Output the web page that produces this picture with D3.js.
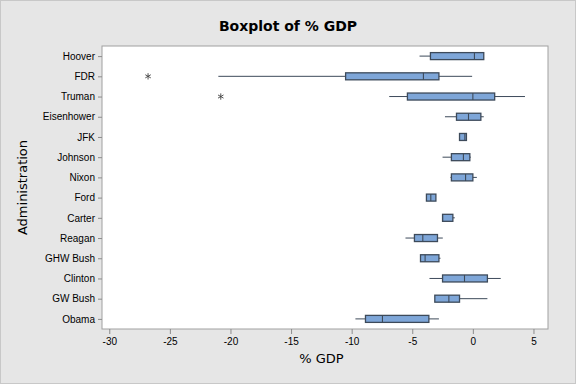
<!DOCTYPE html>
<html>
<head>
<meta charset="utf-8">
<script src="https://cdn.jsdelivr.net/npm/d3@7"></script>
<style>
  body { margin: 0; background: #e6e6e6; }
  svg { display: block; font-family: "DejaVu Sans", sans-serif; }
  .axis text { font-size: 10px; fill: #000; }
  .axis line { stroke: #8c8c8c; }
  .axis path { display: none; }
</style>
</head>
<body>
<div id="chart"></div>
<script>
// Administrations, top to bottom
var admins = ["Hoover", "FDR", "Truman", "Eisenhower", "JFK", "Johnson", "Nixon",
              "Ford", "Carter", "Reagan", "GHW Bush", "Clinton", "GW Bush", "Obama"];

// five-number summaries per administration (% GDP)
var whiskerLow = [-4.4, -21.0, -6.9, -2.3, -1.1, -2.5, -1.85, -3.83, -2.5, -5.56, -4.32, -3.58, -3.14, -9.69];
var q1         = [-3.5, -10.5, -5.4, -1.35, -1.1, -1.77, -1.77, -3.83, -2.5, -4.82, -4.32, -2.5, -3.14, -8.86];
var median     = [0.13, -4.08, 0.0, -0.36, -0.66, -0.78, -0.6, -3.47, -2.5, -4.13, -3.94, -0.69, -1.98, -7.46];
var q3         = [0.9, -2.8, 1.8, 0.66, -0.53, -0.25, 0.0, -3.05, -1.65, -2.92, -2.8, 1.2, -1.1, -3.63];
var whiskerHigh = [0.9, -0.06, 4.3, 0.9, -0.53, -0.17, 0.33, -3.05, -1.49, -2.48, -2.67, 2.3, 1.2, -2.8];

// outliers
var outlierAdmin = ["FDR", "Truman"];
var outlierValue = [-26.8, -20.8];

var xTicks = [-30, -25, -20, -15, -10, -5, 0, 5];

var width = 576, height = 384;
var margin = { top: 46, right: 28, bottom: 55, left: 102 };
var plotW = width - margin.left - margin.right,
    plotH = height - margin.top - margin.bottom;

var svg = d3.select("#chart").append("svg")
    .attr("width", width)
    .attr("height", height);

// outer frame
svg.append("rect")
    .attr("x", 0.5).attr("y", 0.5)
    .attr("width", width - 1).attr("height", height - 1)
    .attr("fill", "#e6e6e6")
    .attr("stroke", "#c8c8c8");

svg.append("text")
    .attr("x", width / 2)
    .attr("y", 31)
    .attr("text-anchor", "middle")
    .style("font-size", "14px")
    .style("font-weight", "bold")
    .text("Boxplot of % GDP");

var g = svg.append("g")
    .attr("transform", "translate(" + margin.left + "," + margin.top + ")");

g.append("rect")
    .attr("x", 0).attr("y", 0)
    .attr("width", plotW).attr("height", plotH)
    .attr("fill", "#fff")
    .attr("stroke", "#a0a0a0");

var x = d3.scaleLinear()
    .domain([-30.6, 6.2])
    .range([0, plotW]);

var y = d3.scalePoint()
    .domain(admins)
    .range([0, plotH])
    .padding(0.5);

var xAxis = d3.axisBottom(x)
    .tickValues(xTicks)
    .tickFormat(function(d) { return String(d); })
    .tickSize(5)
    .tickPadding(4);

var yAxis = d3.axisLeft(y)
    .tickSize(4)
    .tickPadding(3);

g.append("g")
    .attr("class", "x-axis axis")
    .attr("transform", "translate(0," + plotH + ")")
    .call(xAxis);

g.append("g")
    .attr("class", "y-axis axis")
    .call(yAxis);

svg.append("text")
    .attr("x", margin.left + x(-12.5))
    .attr("y", 363)
    .attr("text-anchor", "middle")
    .style("font-size", "13px")
    .text("% GDP");

svg.append("text")
    .attr("transform", "translate(27," + (margin.top + plotH / 2) + ") rotate(-90)")
    .attr("text-anchor", "middle")
    .style("font-size", "13px")
    .text("Administration");

// box data
var boxes = admins.map(function(a, i) {
    return { name: a, lo: whiskerLow[i], q1: q1[i], med: median[i], q3: q3[i], hi: whiskerHigh[i] };
});

var boxH = 7;
var lineColor = "#3d4a5a";

var bg = g.selectAll(".box")
    .data(boxes)
    .enter().append("g")
    .attr("class", "box");

bg.append("line")
    .attr("x1", function(d) { return x(d.lo); })
    .attr("x2", function(d) { return x(d.q1); })
    .attr("y1", function(d) { return y(d.name); })
    .attr("y2", function(d) { return y(d.name); })
    .attr("stroke", lineColor);

bg.append("line")
    .attr("x1", function(d) { return x(d.q3); })
    .attr("x2", function(d) { return x(d.hi); })
    .attr("y1", function(d) { return y(d.name); })
    .attr("y2", function(d) { return y(d.name); })
    .attr("stroke", lineColor);

bg.append("rect")
    .attr("x", function(d) { return x(d.q1); })
    .attr("width", function(d) { return x(d.q3) - x(d.q1); })
    .attr("y", function(d) { return y(d.name) - boxH / 2; })
    .attr("height", boxH)
    .attr("fill", "#7ea6d8")
    .attr("stroke", lineColor)
    .attr("stroke-width", 1.3);

bg.append("line")
    .attr("x1", function(d) { return x(d.med); })
    .attr("x2", function(d) { return x(d.med); })
    .attr("y1", function(d) { return y(d.name) - boxH / 2; })
    .attr("y2", function(d) { return y(d.name) + boxH / 2; })
    .attr("stroke", lineColor)
    .attr("stroke-width", 1.1);

// outliers as asterisks
var star = d3.symbol().type(d3.symbolAsterisk).size(28);
g.selectAll(".outlier")
    .data(outlierAdmin.map(function(a, i) { return { name: a, v: outlierValue[i] }; }))
    .enter().append("path")
    .attr("class", "outlier")
    .attr("d", star)
    .attr("transform", function(d) { return "translate(" + x(d.v) + "," + y(d.name) + ")"; })
    .attr("fill", "none")
    .attr("stroke", "#444")
    .attr("stroke-width", 0.9);
</script>
</body>
</html>
